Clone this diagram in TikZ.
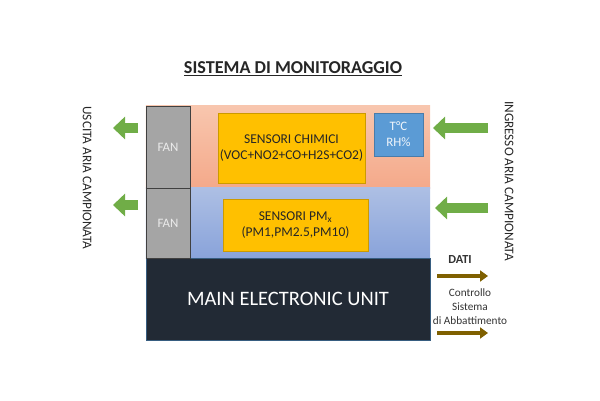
\documentclass[tikz,border=0pt]{standalone}
\usepackage{fontspec}
\setmainfont{Carlito}
\usepackage{tikz}
\usetikzlibrary{positioning,arrows.meta}
\definecolor{pinktop}{HTML}{F8C6AE}
\definecolor{pinkbot}{HTML}{F4A98A}
\definecolor{bluetop}{HTML}{ADBFE4}
\definecolor{bluebot}{HTML}{89A3DA}
\definecolor{unitcol}{HTML}{222A35}
\definecolor{sensorcol}{HTML}{FFC000}
\definecolor{tempcol}{HTML}{5B9BD5}
\definecolor{fancol}{HTML}{A5A5A5}
\definecolor{aircol}{HTML}{70AD47}
\definecolor{datacol}{HTML}{7F6000}
\tikzset{
  row/.style={minimum width=8.52cm, inner sep=0pt, draw=none},
  fan/.style={draw=black!75, line width=0.8pt, fill=fancol, text=white!92!black,
    minimum width=1.32cm, inner sep=0pt, font=\fontsize{11}{13}\selectfont},
  sens/.style={draw=sensorcol!80!black, line width=0.3pt, fill=sensorcol,
    align=center, inner sep=0pt, text=black!85, font=\fontsize{11.5}{13.6}\selectfont},
  side/.style={rotate=-90, font=\fontsize{11.3}{13}\selectfont, text=black!85},
  small/.style={align=center, font=\fontsize{9.6}{12}\selectfont, text=black!80},
  air/.style={-{Triangle[length=3.6mm, width=6.6mm]}, line width=8.5pt, aircol},
  dat/.style={-{Triangle[length=2.4mm, width=3.3mm]}, line width=4.2pt, datacol}}
\begin{document}
\begin{tikzpicture}[x=0.03cm, y=-0.03cm]
  \useasboundingbox (0,0) rectangle (600,400);
  \node[font=\bfseries\fontsize{15.5}{17}\selectfont, text=black!85] (title) at (293,69)
    {\underline{SISTEMA DI MONITORAGGIO}};
  % rows
  \node[row, minimum height=2.46cm, top color=pinktop, bottom color=pinkbot] (chamber) at (288,147) {};
  \node[row, minimum height=2.1cm, top color=bluetop, bottom color=bluebot] (pmrow) at (288,223) {};
  \node[row, minimum height=2.46cm, fill=unitcol, draw=tempcol!60!black, line width=0.4pt,
    text=white, font=\fontsize{17.5}{20}\selectfont] (unit) at (288,299) {MAIN ELECTRONIC UNIT};
  \node[fan, minimum height=2.46cm] (fanA) at (168,147) {FAN};
  \node[fan, minimum height=2.1cm] (fanB) at (168,223) {FAN};
  % sensors
  \node[sens, minimum width=4.41cm, minimum height=2.1cm] (chem) at (291.5,148)
    {SENSORI CHIMICI\\(VOC+NO2+CO+H2S+CO2)};
  \node[sens, minimum width=4.35cm, minimum height=1.56cm] (pm) at (295.5,225)
    {SENSORI PM\textsubscript{x}\\(PM1,PM2.5,PM10)};
  \node[draw=tempcol!80!black, line width=0.3pt, fill=tempcol, text=white!90!tempcol,
    align=center, inner sep=0pt, minimum width=1.47cm, minimum height=1.29cm,
    font=\fontsize{11}{13.5}\selectfont] (temp) at (398.5,134.5) {T°C\\RH\%};
  % air flow
  \coordinate (outAs) at (138,128); \coordinate (outAe) at (113,128);
  \coordinate (outBs) at (138,205); \coordinate (outBe) at (113,205);
  \coordinate (inAs) at (488,128); \coordinate (inAe) at (433,128);
  \coordinate (inBs) at (488,208); \coordinate (inBe) at (435,208);
  \draw[air] (outAs) -- (outAe);
  \draw[air] (outBs) -- (outBe);
  \draw[air] (inAs) -- (inAe);
  \draw[air] (inBs) -- (inBe);
  \node[side] (exit) at (87,178) {USCITA ARIA CAMPIONATA};
  \node[side] (entry) at (509,181) {INGRESSO ARIA CAMPIONATA};
  % outputs
  \node[small, font=\bfseries\fontsize{10.5}{12}\selectfont] (data) at (460,260) {DATI};
  \node[small] (ctrl) at (470,307) {Controllo\\Sistema\\di Abbattimento};
  \coordinate (datS) at (437,276); \coordinate (datE) at (488,276);
  \coordinate (ctlS) at (437,333); \coordinate (ctlE) at (488,333);
  \draw[dat] (datS) -- (datE);
  \draw[dat] (ctlS) -- (ctlE);
\end{tikzpicture}
\end{document}
